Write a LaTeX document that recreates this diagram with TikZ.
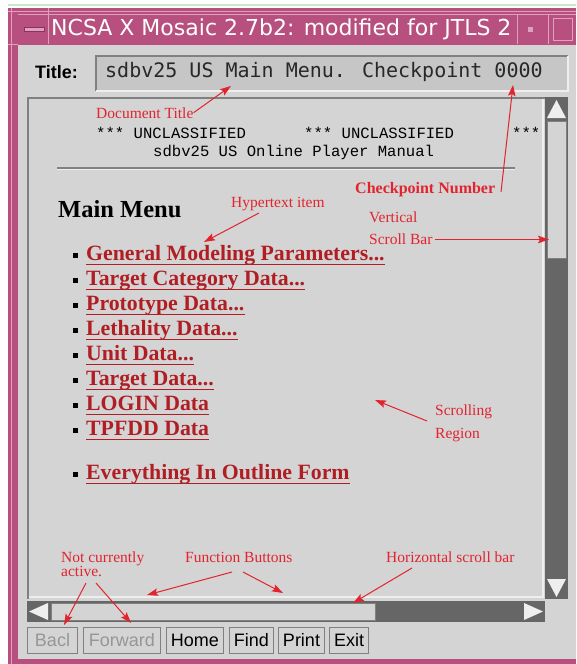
\documentclass[tikz,border=0pt]{standalone}
\usepackage{fontspec}
\setmainfont{Liberation Serif}
\newfontfamily\uisans{DejaVu Sans}
\newfontfamily\btnfont{Liberation Sans}
\newfontfamily\fieldmono{DejaVu Sans Mono}
\newfontfamily\docmono{Liberation Mono}
\usetikzlibrary{arrows.meta}
\newcommand\mydots{...}

\definecolor{framepink}{RGB}{183,80,126}
\definecolor{pinklight}{RGB}{222,160,190}
\definecolor{pinkdark}{RGB}{140,50,90}
\definecolor{bodygray}{RGB}{212,212,212}
\definecolor{fieldgray}{RGB}{198,198,198}
\definecolor{scrolldark}{RGB}{102,102,102}
\definecolor{edgegray}{RGB}{128,128,128}
\definecolor{lightedge}{RGB}{238,238,238}
\definecolor{annred}{RGB}{226,36,46}
\definecolor{linkred}{RGB}{176,30,36}
\definecolor{topgreen}{RGB}{200,232,196}
\definecolor{disabledtxt}{RGB}{150,150,150}
\definecolor{fieldtxt}{RGB}{40,40,40}

\tikzset{
  ann/.style={text=annred, font=\fontsize{15.5}{15.5}\selectfont, anchor=base west, inner sep=0pt},
  annbold/.style={ann, font=\bfseries\fontsize{16}{16}\selectfont},
  annarrow/.style={draw=annred, line width=1pt, -{Stealth[length=11pt,width=7.5pt,inset=2pt]}},
  linkitem/.style={text=linkred, font=\bfseries\fontsize{21.8}{21.8}\selectfont, anchor=base west, inner sep=0pt},
  linkline/.style={draw=linkred, line width=1.4pt},
  bulletsq/.style={fill=black, minimum size=5pt, inner sep=0pt},
  btn/.style={draw=edgegray, fill=bodygray, line width=1pt, minimum height=26pt, inner sep=0pt, anchor=west,
              font=\btnfont\fontsize{18}{18}\selectfont},
  btnoff/.style={btn, text=disabledtxt},
  arrowtri/.style={fill=lightedge, draw=none},
  doctext/.style={font=\docmono\fontsize{15.6}{15.6}\selectfont, anchor=base west, inner sep=0pt},
}

\begin{document}
\begin{tikzpicture}[x=1pt,y=-1pt]
\useasboundingbox (0,0) rectangle (576,664);
\fill[white] (0,0) rectangle (576,664);
\draw[topgreen, line width=2pt] (8,5) -- (576,5);

% window frame
\fill[framepink] (8,8) rectangle (576,664);
\draw[pinklight, line width=1pt] (11,8) -- (11,664);
\draw[pinklight, line width=1pt] (8,11) -- (576,11);
\draw[pinklight, line width=0.8pt] (48,8) -- (48,14);
\draw[pinklight, line width=0.8pt] (8,44) -- (18,44);

% title bar
\fill[framepink] (18,14) rectangle (576,44);
\draw[pinklight, line width=0.8pt] (18,14) -- (576,14);
\draw[pinklight, line width=0.8pt] (48,14) -- (48,44);
\draw[pinklight, line width=0.8pt] (517,14) -- (517,44);
\draw[pinklight, line width=0.8pt] (548,14) -- (548,44);
\fill[pinklight, draw=pinkdark, line width=0.6pt] (24,27) rectangle (44,31);
\fill[pinklight] (528,27) rectangle (533,32);
\draw[pinklight, line width=1pt] (553,18) rectangle (572,40);
\node[text=white, font=\uisans\fontsize{22}{22}\selectfont, anchor=west, inner sep=0pt]
  (wintitle) at (51,29) {NCSA X Mosaic 2.7b2: modified for JTLS 2};

% window body
\fill[bodygray] (18,45) rectangle (576,659);

% title row
\node[font=\btnfont\bfseries\fontsize{18}{18}\selectfont, anchor=west, inner sep=0pt]
  (titlelbl) at (35,72) {Title:};
\fill[fieldgray] (96,56) rectangle (568,91);
\draw[edgegray, line width=1.5pt] (96,91) -- (96,56) -- (568,56);
\draw[lightedge, line width=1.5pt] (96,91) -- (568,91) -- (568,56);
\node[text=fieldtxt, font=\fieldmono\fontsize{20}{20}\selectfont, anchor=west, inner sep=0pt]
  (titlefield) at (105,72) {sdbv25 US Main Menu. Checkpoint 0000};

% content area
\fill[bodygray] (27,97) rectangle (545,599);
\draw[edgegray, line width=2pt] (28,599) -- (28,98) -- (545,98);
\draw[lightedge, line width=1.5pt] (29,597) -- (543,597) -- (543,99);

% vertical scroll bar
\fill[scrolldark] (545,97) rectangle (568,599);
\fill[arrowtri] (547,118) -- (566,118) -- (556.5,100) -- cycle;
\fill[bodygray, draw=edgegray, line width=0.6pt] (547,121) rectangle (566,258);
\fill[arrowtri] (547,579) -- (566,579) -- (556.5,597) -- cycle;

% horizontal scroll bar
\fill[scrolldark] (27,601) rectangle (545,622);
\fill[arrowtri] (48,603) -- (48,620) -- (29,611.5) -- cycle;
\fill[bodygray, draw=edgegray, line width=0.6pt] (51,603) rectangle (375,620);
\fill[arrowtri] (524,603) -- (524,620) -- (543,611.5) -- cycle;

% buttons
\node[btnoff, minimum width=50pt] (bback) at (27,640) {Bacl};
\node[btnoff, minimum width=77pt] (bfwd) at (83,640) {Forward};
\node[btn, minimum width=57pt] (bhome) at (166,640) {Home};
\node[btn, minimum width=44pt] (bfind) at (229,640) {Find};
\node[btn, minimum width=46pt] (bprint) at (278,640) {Print};
\node[btn, minimum width=39pt] (bexit) at (329,640) {Exit};

% document header
\node[doctext] (uncA) at (96,138) {*** UNCLASSIFIED};
\node[doctext] (uncB) at (304,138) {*** UNCLASSIFIED};
\node[doctext] (uncC) at (512,138) {***};
\node[doctext] (manual) at (153,156) {sdbv25 US Online Player Manual};
\draw[edgegray, line width=1.2pt] (57,168) -- (515,168);
\draw[lightedge, line width=0.8pt] (57,169.5) -- (515,169.5);

\node[font=\bfseries\fontsize{24.5}{24.5}\selectfont, anchor=base west, inner sep=0pt] (mainmenu) at (58,217) {Main Menu};

% menu items
\foreach \yb/\txt [count=\i] in {260/{General Modeling Parameters\mydots}, 285/{Target Category Data\mydots}, 310/{Prototype Data\mydots}, 335/{Lethality Data\mydots}, 360/{Unit Data\mydots}, 385/{Target Data\mydots}, 410/{LOGIN Data}, 435/{TPFDD Data}, 479/{Everything In Outline Form}} {
  \node[bulletsq] (bul\i) at (75.5,\yb-4.5) {};
  \node[linkitem] (item\i) at (86,\yb) {\txt};
  \draw[linkline] ([yshift=-4.5pt]item\i.base west) -- ([yshift=-4.5pt]item\i.base east);
}

% annotations
\node[ann] (docttl) at (96,118) {Document Title};
\coordinate (tipdoc) at (231,86);
\draw[annarrow] (docttl.east) -- (tipdoc);

\node[annbold] (chknum) at (355,193) {Checkpoint Number};
\coordinate (tailchk) at (501,192);
\coordinate (tipchk) at (513,85);
\draw[annarrow] (tailchk) -- (tipchk);

\node[ann] (hyper) at (231,207) {Hypertext item};
\coordinate (tailhyp) at (259,213);
\coordinate (tiphyp) at (204,242);
\draw[annarrow] (tailhyp) -- (tiphyp);

\node[ann] (vert) at (369,222) {Vertical};
\node[ann] (sbar) at (369,244) {Scroll Bar};
\coordinate (tipvsb) at (549,239.5);
\draw[annarrow] ([xshift=2pt]sbar.east |- tipvsb) -- (tipvsb);

\node[ann] (scrl) at (435,415) {Scrolling};
\node[ann] (region) at (435,438) {Region};
\coordinate (tailscr) at (427,421);
\coordinate (tipscr) at (375,400);
\draw[annarrow] (tailscr) -- (tipscr);

\node[ann] (notcur) at (61,562) {Not currently};
\node[ann] (active) at (61,576) {active.};
\coordinate (tailna) at (86,583);
\coordinate (tailnb) at (96,583);
\coordinate (tipback) at (64,625);
\coordinate (tipfwd) at (131,623);
\draw[annarrow] (tailna) -- (tipback);
\draw[annarrow] (tailnb) -- (tipfwd);

\node[ann] (funcbtn) at (185,562) {Function Buttons};
\coordinate (tailfa) at (232,572);
\coordinate (tailfb) at (243,572);
\coordinate (tipfa) at (147,595);
\coordinate (tipfb) at (283,593);
\draw[annarrow] (tailfa) -- (tipfa);
\draw[annarrow] (tailfb) -- (tipfb);

\node[ann] (hsb) at (386,562) {Horizontal scroll bar};
\coordinate (tailhsb) at (412,568);
\coordinate (tiphsb) at (353,603);
\draw[annarrow] (tailhsb) -- (tiphsb);
\end{tikzpicture}
\end{document}
